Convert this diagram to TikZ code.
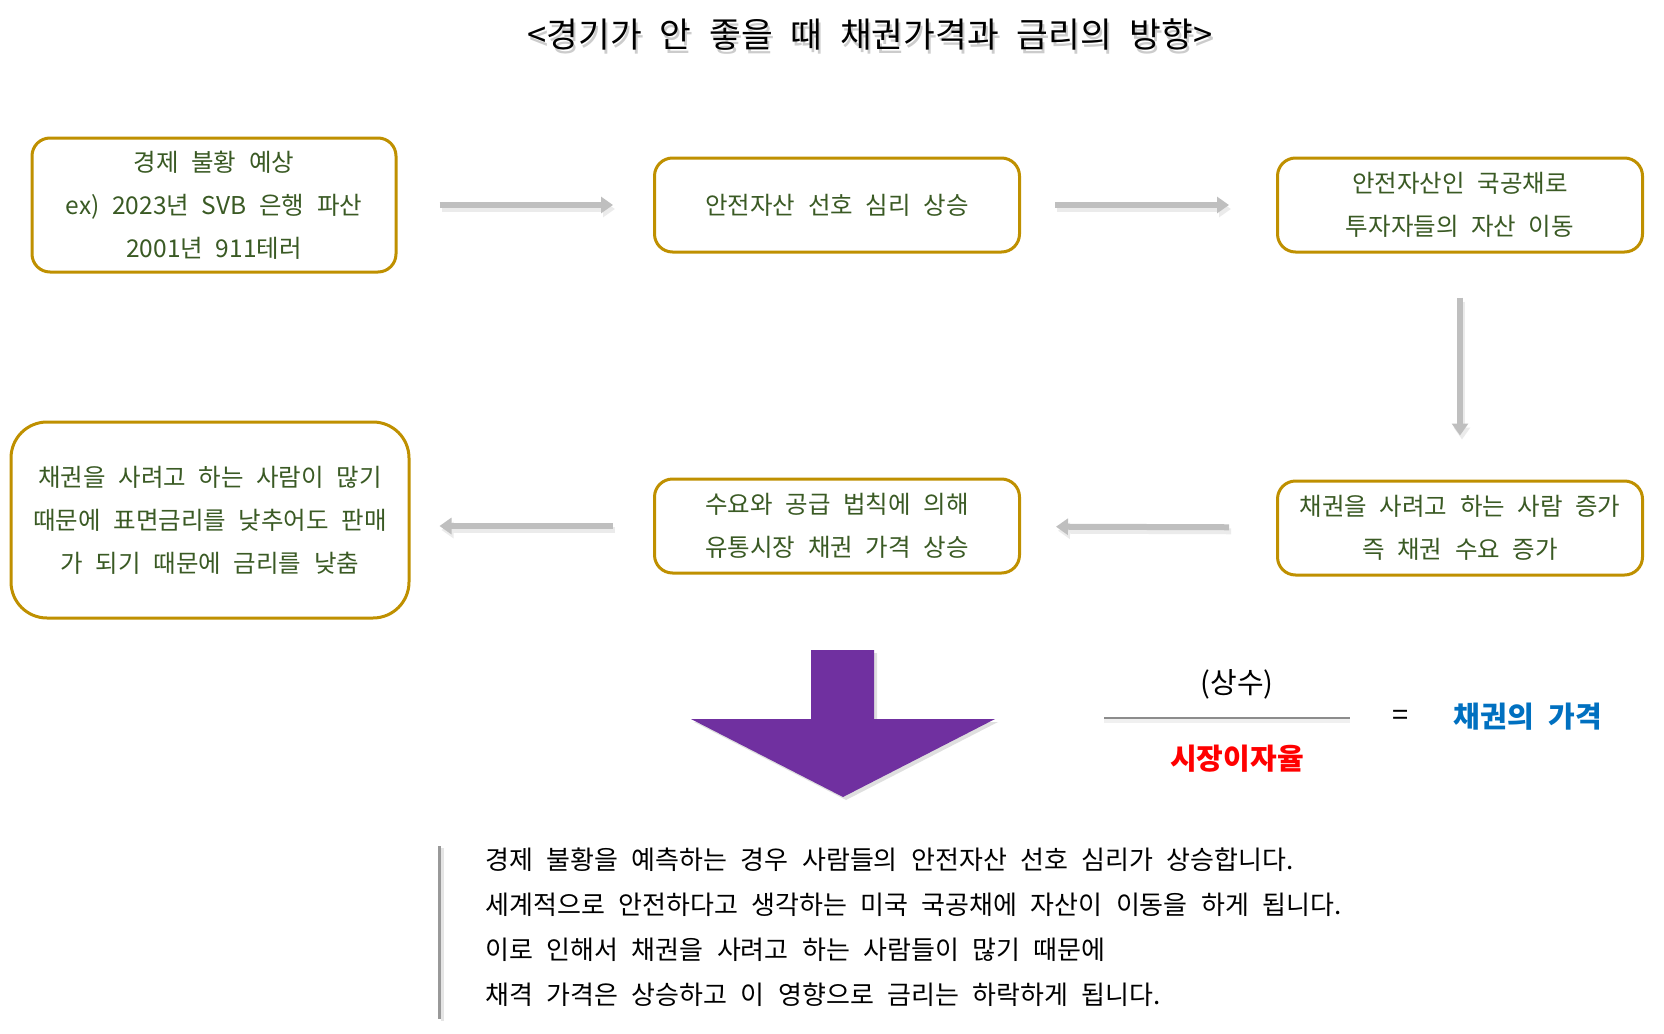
\documentclass[tikz,border=0pt]{standalone}
\usepackage{fontspec}
\setmainfont{Noto Sans CJK KR}[WordSpace=2.3]
\usetikzlibrary{arrows.meta,shadows}
\definecolor{boxgold}{HTML}{BF9000}
\definecolor{boxtext}{HTML}{3A5A24}
\definecolor{arrowgray}{HTML}{BFBFBF}
\definecolor{bigpurple}{HTML}{7030A0}
\definecolor{rateblue}{HTML}{0070C0}
\newcommand{\shadowtext}[1]{\rlap{\kern2pt\lower4pt\hbox{\color{black!20}#1}}#1}

\begin{document}
\begin{tikzpicture}[x=1pt,y=-1pt,
  flowbox/.style={draw=boxgold, line width=3pt, rounded corners=18pt, fill=white,
    text=boxtext, align=center, minimum width=365pt, minimum height=94pt,
    font=\fontsize{24.5}{43}\selectfont},
  flowarrow/.style={draw=arrowgray, line width=6pt, -{Triangle[length=12pt,width=16pt]},
    preaction={draw=black!8, line width=6pt, transform canvas={shift={(2pt,-4pt)}}}},
  bodytext/.style={anchor=west, font=\fontsize{26}{30}\selectfont},
  formula/.style={font=\fontsize{29}{34}\selectfont},
  formulabold/.style={font=\fontsize{29}{34}\selectfont\bfseries}
]
\useasboundingbox (0,0) rectangle (1664,1033);

% title
\node[font=\fontsize{34.5}{38}\selectfont] (title) at (870,37) {\shadowtext{<경기가 안 좋을 때 채권가격과 금리의 방향>}};

% flow boxes
\node[flowbox, minimum width=364pt, minimum height=134pt] (slump) at (214,205) {경제 불황 예상\\ex) 2023년 SVB 은행 파산\\2001년 911테러};
\node[flowbox] (safepref) at (837,205) {안전자산 선호 심리 상승};
\node[flowbox] (treasury) at (1460,205) {안전자산인 국공채로\\투자자들의 자산 이동};
\node[flowbox] (demand) at (1460,528) {채권을 사려고 하는 사람 증가\\즉 채권 수요 증가};
\node[flowbox] (pricerise) at (837,526) {수요와 공급 법칙에 의해\\유통시장 채권 가격 상승};
\node[flowbox, minimum width=398pt, minimum height=196pt, rounded corners=36pt] (lowrate) at (210,520) {채권을 사려고 하는 사람이 많기\\때문에 표면금리를 낮추어도 판매\\가 되기 때문에 금리를 낮춤};

% connectors
\draw[flowarrow, shorten <=42pt, shorten >=40pt] (slump) -- (safepref);
\draw[flowarrow, shorten <=34pt, shorten >=47pt] (safepref) -- (treasury);
\draw[flowarrow, shorten <=44pt, shorten >=44pt] (treasury) -- (demand);
\draw[flowarrow, shorten <=47pt, shorten >=35pt] (demand) -- (pricerise);
\draw[flowarrow, shorten <=40pt, shorten >=29pt] (pricerise.west) -- (lowrate.east |- pricerise.west);

% big arrow
\fill[bigpurple, drop shadow={shadow xshift=3pt, shadow yshift=-3pt, opacity=0.25}]
  (811,650) -- (874,650) -- (874,719) -- (995,719) -- (843,797) -- (691,719) -- (811,719) -- cycle;

% bond price formula
\node[formula] (const) at (1237,684) {(상수)};
\draw[black!45, line width=1.2pt, preaction={draw=black!6, line width=4pt, transform canvas={shift={(0pt,-3pt)}}}] (1104,718) -- (1350,718);
\node[formulabold, text=red] (rate) at (1237,759) {시장이자율};
\node[formula] (eq) at (1401,718) {=};
\node[formulabold, text=rateblue] (price) at (1528,717) {채권의 가격};

% explanation
\draw[black!40, line width=3pt, preaction={draw=black!10, line width=3pt, transform canvas={shift={(3pt,-2pt)}}}] (439,846) -- (439,1019);
\foreach \txt/\ypos/\i in {%
    {경제 불황을 예측하는 경우 사람들의 안전자산 선호 심리가 상승합니다.}/860/1,%
    {세계적으로 안전하다고 생각하는 미국 국공채에 자산이 이동을 하게 됩니다.}/905/2,%
    {이로 인해서 채권을 사려고 하는 사람들이 많기 때문에}/950/3,%
    {채격 가격은 상승하고 이 영향으로 금리는 하락하게 됩니다.}/995/4%
}{
    \node[bodytext] (line\i) at (482,\ypos) {\txt};
}
\end{tikzpicture}
\end{document}
